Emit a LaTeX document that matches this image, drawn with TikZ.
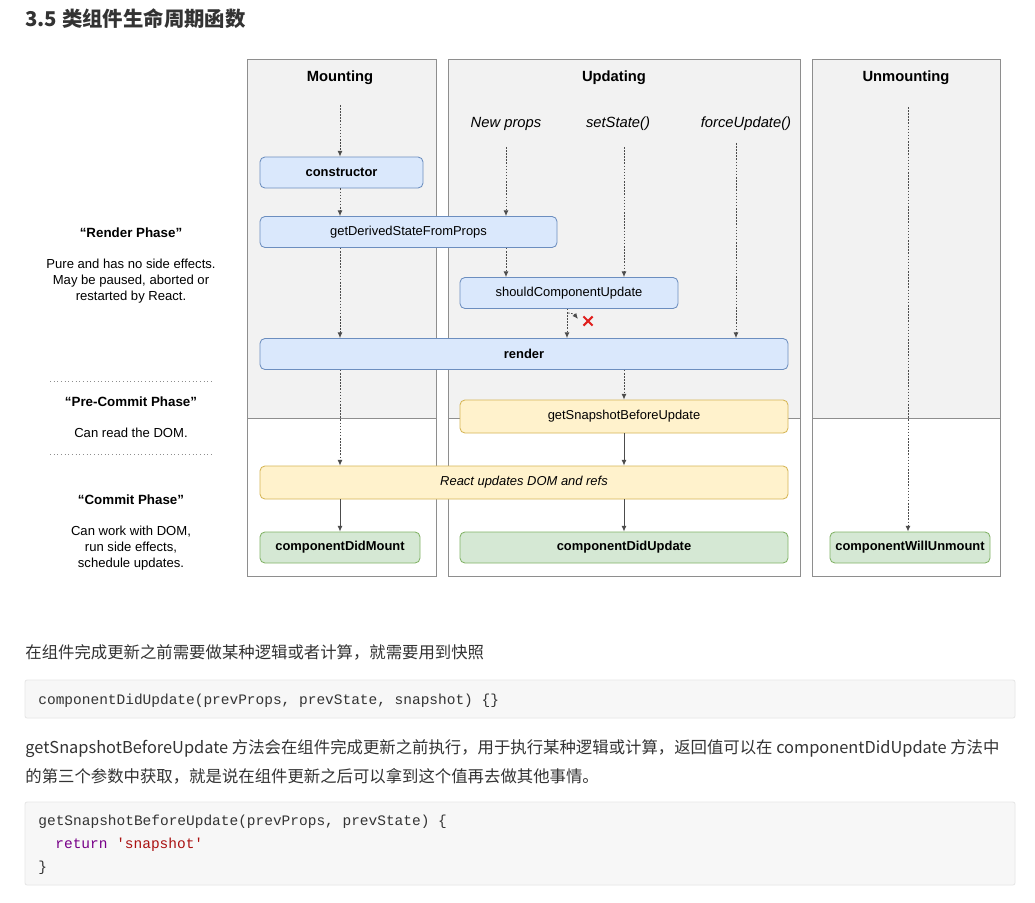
\documentclass[tikz,border=0pt]{standalone}
\usepackage{fontspec}
\setmainfont{Liberation Sans}
\setmonofont{Liberation Mono}
\newfontfamily\cjk{Noto Sans CJK SC}
\usetikzlibrary{arrows.meta, positioning, calc, shapes.misc}
\definecolor{cpanel}{HTML}{F2F2F2}
\definecolor{cedge}{HTML}{8E8E8E}
\definecolor{cblue}{HTML}{DAE8FC}
\definecolor{cblueline}{HTML}{6C8EBF}
\definecolor{cyellow}{HTML}{FFF2CC}
\definecolor{cyellowline}{HTML}{D6B656}
\definecolor{cgreen}{HTML}{D5E8D4}
\definecolor{cgreenline}{HTML}{82B366}
\definecolor{ctext}{HTML}{333333}
\definecolor{ccode}{HTML}{F7F7F7}
\definecolor{ccodeline}{HTML}{E6E6E6}
\definecolor{ckey}{HTML}{770088}
\definecolor{cstr}{HTML}{AA1111}
\definecolor{ccross}{HTML}{E0201E}
\newcommand{\pxl}{0.025cm}
\tikzset{
  every picture/.style={line width=0.6pt},
  phase/.style={draw=#1line, fill=#1, rounded corners=3.5pt, inner sep=0pt, minimum height=31*\pxl, font=\fontsize{9.2}{11}\selectfont},
  lane/.style={font=\fontsize{10.5}{12}\selectfont\bfseries},
  trigger/.style={font=\fontsize{10.5}{12}\selectfont\itshape},
  flow/.style={-{Latex[length=4pt, width=3.4pt]}, draw=black!70, dash pattern=on 1.1pt off 1.1pt},
  flowsolid/.style={-{Latex[length=4pt, width=3.4pt]}, draw=black!70},
  side/.style={font=\fontsize{9.3}{11.3}\selectfont, align=center},
  sidehead/.style={font=\fontsize{9.5}{11.3}\selectfont\bfseries},
  para/.style={font=\cjk\fontsize{11.65}{14}\selectfont, text=ctext, anchor=west, inner sep=0pt},
  codeline/.style={font=\ttfamily\fontsize{10.3}{12}\selectfont, text=ctext, anchor=west, inner sep=0pt},
  codebox/.style={draw=ccodeline, fill=ccode, rounded corners=1.5pt},
}
\begin{document}
\begin{tikzpicture}[x=0.025cm, y=-0.025cm]
  \fill[white] (0,0) rectangle (1035,903);
  \useasboundingbox (0,0) rectangle (1035,903);
  \node[para, font=\cjk\fontsize{14.5}{17}\selectfont\bfseries] (title) at (25,19) {3.5 类组件生命周期函数};
  % lanes
  \foreach \xa/\xb in {247/436, 448/800, 812/1000} {
    \fill[cpanel] (\xa,59) rectangle (\xb,418);
    \draw[cedge] (\xa,59) rectangle (\xb,576) (\xa,418) -- (\xb,418);
  }
  \node[lane] (mountT) at (340,78) {Mounting};
  \node[lane] (updT) at (614,78) {Updating};
  \node[lane] (unmountT) at (906,78) {Unmounting};
  \node[trigger] (newp) at (506,124) {New props};
  \node[trigger] (sets) at (618,124) {setState()};
  \node[trigger] (forceu) at (746,124) {forceUpdate()};
  % methods
  \node[phase=cblue, minimum width=163*\pxl] (ctor) at (341.5,172.5) {\textbf{constructor}};
  \node[phase=cblue, minimum width=297*\pxl] (gdsfp) at (408.5,232) {getDerivedStateFromProps};
  \node[phase=cblue, minimum width=218*\pxl] (scu) at (569,293) {shouldComponentUpdate};
  \node[phase=cblue, minimum width=528*\pxl] (render) at (524,354) {\textbf{render}};
  \node[phase=cyellow, minimum width=328*\pxl, minimum height=33*\pxl] (gsbu) at (624,416.5) {getSnapshotBeforeUpdate};
  \node[phase=cyellow, minimum width=528*\pxl, minimum height=33*\pxl] (dom) at (524,482.5) {\itshape React updates DOM and refs};
  \node[phase=cgreen, minimum width=160*\pxl] (cdm) at (340,547.5) {\textbf{componentDidMount}};
  \node[phase=cgreen, minimum width=328*\pxl] (cdu) at (624,547.5) {\textbf{componentDidUpdate}};
  \node[phase=cgreen, minimum width=160*\pxl] (cwu) at (910,547.5) {\textbf{componentWillUnmount}};
  \node[cross out, draw=ccross, line width=1.5pt, minimum size=7*\pxl, inner sep=0pt] (nocall) at (588,321) {};
  % flow
  \coordinate (mountS) at (340,105); \coordinate (newpS) at (506,147); \coordinate (setsS) at (624,147);
  \coordinate (forceS) at (736,143); \coordinate (unmountS) at (908,107);
  \draw[flow] (mountS) -- (mountS |- ctor.north);
  \draw[flow] (mountS |- ctor.south) -- (mountS |- gdsfp.north);
  \draw[flow] (mountS |- gdsfp.south) -- (mountS |- render.north);
  \draw[flow] (mountS |- render.south) -- (mountS |- dom.north);
  \draw[flowsolid] (cdm.north |- dom.south) -- (cdm.north);
  \draw[flow] (newpS) -- (newpS |- gdsfp.north);
  \draw[flow] (newpS |- gdsfp.south) -- (newpS |- scu.north);
  \draw[flow] (setsS) -- (setsS |- scu.north);
  \draw[flow] (forceS) -- (forceS |- render.north);
  \draw[flow] ([xshift=-2*\pxl]scu.south) -- ([xshift=-2*\pxl]scu.south |- render.north);
  \draw[flow] ([xshift=-1*\pxl, yshift=-4*\pxl]scu.south) -- ++(6,1) -- ++(4,5);
  \draw[flow] (gsbu.north |- render.south) -- (gsbu.north);
  \draw[flowsolid] (gsbu.south) -- (gsbu.south |- dom.north);
  \draw[flowsolid] (cdu.north |- dom.south) -- (cdu.north);
  \draw[flow] (unmountS) -- (unmountS |- cwu.north);
  % phases
  \node[sidehead] (renderH) at (131,233) {“Render Phase”};
  \node[side] (renderD) at (131,281) {Pure and has no side effects.\\May be paused, aborted or\\restarted by React.};
  \draw[cedge, dotted] (50,381) -- (212,381);
  \node[sidehead] (precommitH) at (131,402) {“Pre-Commit Phase”};
  \node[side] (precommitD) at (131,433) {Can read the DOM.};
  \draw[cedge, dotted] (50,454) -- (212,454);
  \node[sidehead] (commitH) at (131,500) {“Commit Phase”};
  \node[side] (commitD) at (131,548) {Can work with DOM,\\run side effects,\\schedule updates.};
  % notes below
  \node[para] (note1) at (25,652) {在组件完成更新之前需要做某种逻辑或者计算，就需要用到快照};
  \draw[codebox] (25,680) rectangle (1015,718);
  \node[codeline] (code1) at (38,701) {componentDidUpdate(prevProps, prevState, snapshot) \{\}};
  \node[para] (note2) at (25,749) {getSnapshotBeforeUpdate 方法会在组件完成更新之前执行，用于执行某种逻辑或计算，返回值可以在 componentDidUpdate 方法中};
  \node[para] (note3) at (25,776) {的第三个参数中获取，就是说在组件更新之后可以拿到这个值再去做其他事情。};
  \draw[codebox] (25,802) rectangle (1015,885);
  \node[codeline] (code2) at (38,822) {getSnapshotBeforeUpdate(prevProps, prevState) \{};
  \node[codeline] (code3) at (55,845) {\textcolor{ckey}{return} \textcolor{cstr}{'snapshot'}};
  \node[codeline] (code4) at (38,868) {\}};
\end{tikzpicture}
\end{document}
